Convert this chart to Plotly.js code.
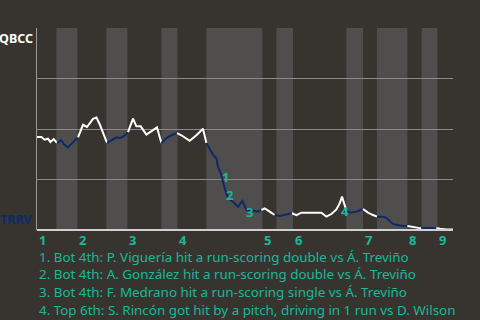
<!DOCTYPE html>
<html><head><meta charset="utf-8">
<script src="https://cdn.plot.ly/plotly-3.0.1.min.js"></script>
<style>html,body{margin:0;padding:0;background:#373430;}#c{width:480px;height:320px;}</style>
</head><body><div id="c"></div>
<script>
// Win-probability path (x = game progress, y = QBCC win %)
const xs = [0,4.4,7.7,11,13.4,16.7,20, 24.4,26.7,31,36,41, 46,50,53,56,59.5,63,70,
  74.4,79.4,82.7,87,91, 96,99.4,103.7,109.4,114.4,120,124.4, 129.4,134.4,140,
  144.4,152.7,159.4,166,169.4, 172.7,176,179.4,181,184.4,187.7,191,196,201,205.4,209.4,214.4,221,224.4,
  227.7,232.7,237.7, 242.7,251,255, 259.4,264.4,271,277.7,284.4,289.4,294.4,299.4,302.7,305,307,309.4,
  312.7,319.4,326, 331,336,340, 346,349,352,356,361,366,370.4, 374.4,379.4,384.4, 386,399.4, 403,409.4,416];
const ys = [46.0,46.0,44.7,45.2,43.6,45.0,43.1, 44.4,42.6,40.9,43.4,45.9, 52.1,51.0,53.0,55.0,55.7,52.0,43.1,
  44.4,45.9,45.5,46.4,48.5, 55.1,51.3,51.3,47.2,48.9,50.8,43.1, 45.5,46.9,48.0,
  46.9,44.2,46.9,50.1,43.1, 39.8,37.3,35.5,31.3,27.2,20.6,15.7,14.0,11.5,14.4,9.9,9.9,9.1,9.9,
  10.7,9.1,7.4, 6.9,7.9,8.3, 7.4,8.6,8.6,8.6,8.6,6.6,7.9,10.2,13.2,16.5,13.2,9.6,
  8.6,9.1,10.4, 8.6,7.4,6.6, 6.6,6.1,4.6,3.0,2.5,2.0,2.0, 1.6,1.3,0.8, 1.0,1.0, 0.6,0.3,0.3];
// Half-inning boundaries (top, bottom, top, bottom, ...)
const halfStarts = [0,19.4,40.4,69.4,90.4,124.4,140.4,169.4,225.4,239.4,256,309.4,326,340,370.4,384.7,400.4];
const xEnd = 416;
const inningLabels = ["1","2","3","4","5","6","7","8","9"];
const awayTeam = "QBCC", homeTeam = "TRRV";
const eventLabels = ["1","2","3","4"];
const eventX = [188.7,192.7,212.7,308.4];
const eventY = [26.2,17.3,9.1,9.6];
const eventTexts = [
  "1. Bot 4th: P. Viguería hit a run-scoring double vs Á. Treviño",
  "2. Bot 4th: A. González hit a run-scoring double vs Á. Treviño",
  "3. Bot 4th: F. Medrano hit a run-scoring single vs Á. Treviño",
  "4. Top 6th: S. Rincón got hit by a pitch, driving in 1 run vs D. Wilson"
];

const TEAL = "#19b898", NAVY = "#0c2a6b", WHITE = "#ffffff";
const FONT = "Noto Sans, Open Sans, sans-serif";

function halfIndex(x){ let k=0; for(let i=0;i<halfStarts.length;i++){ if(x>=halfStarts[i]) k=i; } return k; }
// build colored segments
const traces = [];
let cur = null;
for(let i=1;i<xs.length;i++){
  const mid=(xs[i-1]+xs[i])/2;
  const col = halfIndex(mid)%2===0 ? WHITE : NAVY;
  if(!cur || cur.col!==col){
    cur={col, x:[xs[i-1]], y:[ys[i-1]]};
    traces.push(cur);
  }
  cur.x.push(xs[i]); cur.y.push(ys[i]);
}
const data = traces.map(t=>({type:'scatter',mode:'lines',x:t.x,y:t.y,line:{color:t.col,width:2},hoverinfo:'skip',showlegend:false}));

const shapes = [];
for(let i=1;i<halfStarts.length;i+=2){
  const x1 = i+1<halfStarts.length ? halfStarts[i+1] : xEnd;
  shapes.push({type:'rect',xref:'x',yref:'paper',x0:halfStarts[i],x1:x1,y0:0,y1:1,fillcolor:'#4f4e4c',line:{width:0},layer:'below'});
}
const annotations = [];
// inning labels
for(let k=0;k<inningLabels.length;k++){
  annotations.push({x:halfStarts[2*k],xref:'x',y:0,yref:'paper',yanchor:'middle',xanchor:'left',yshift:-10,showarrow:false,
    text:'<b>'+inningLabels[k]+'</b>',font:{family:FONT,size:13,color:TEAL}});
}
// event markers
for(let k=0;k<eventLabels.length;k++){
  annotations.push({x:eventX[k],y:eventY[k],xref:'x',yref:'y',showarrow:false,text:'<b>'+eventLabels[k]+'</b>',
    font:{family:FONT,size:13,color:TEAL}});
}
// event descriptions
for(let k=0;k<eventTexts.length;k++){
  annotations.push({x:0,xref:'paper',y:0,yref:'paper',xanchor:'left',yanchor:'middle',xshift:0,yshift:-(26.5+17.7*k),
    showarrow:false,text:eventTexts[k],font:{family:FONT,size:13.4,color:TEAL}});
}
// team labels
annotations.push({x:0,xref:'paper',y:1,yref:'paper',xanchor:'right',yanchor:'top',xshift:-2,yshift:0,showarrow:false,
  text:'<b>'+awayTeam+'</b>',font:{family:FONT,size:12.5,color:'#ffffff'}});
annotations.push({x:0,xref:'paper',y:0,yref:'paper',xanchor:'right',yanchor:'bottom',xshift:-2,yshift:0,showarrow:false,
  text:'<b>'+homeTeam+'</b>',font:{family:FONT,size:12.5,color:NAVY}});

const layout = {
  width:480,height:320,paper_bgcolor:'#373430',plot_bgcolor:'#373430',
  margin:{l:37,r:27,t:28,b:90},
  xaxis:{range:[0,xEnd],showgrid:false,zeroline:false,showticklabels:false,ticks:'',showline:false,fixedrange:true},
  yaxis:{range:[0,100],tickvals:[0,25,50,75,100],showgrid:true,gridcolor:'#8a8a8a',gridwidth:1,zeroline:false,
    showticklabels:false,ticks:'',showline:true,linecolor:'#9a9a9a',linewidth:1,fixedrange:true},
  shapes:shapes.concat([{type:'line',xref:'paper',yref:'paper',x0:0,x1:1,y0:0,y1:0,line:{color:'#d0d0d0',width:2}}]),
  annotations:annotations,
  showlegend:false
};
Plotly.newPlot('c',data,layout,{displayModeBar:false,staticPlot:true});
</script></body></html>
